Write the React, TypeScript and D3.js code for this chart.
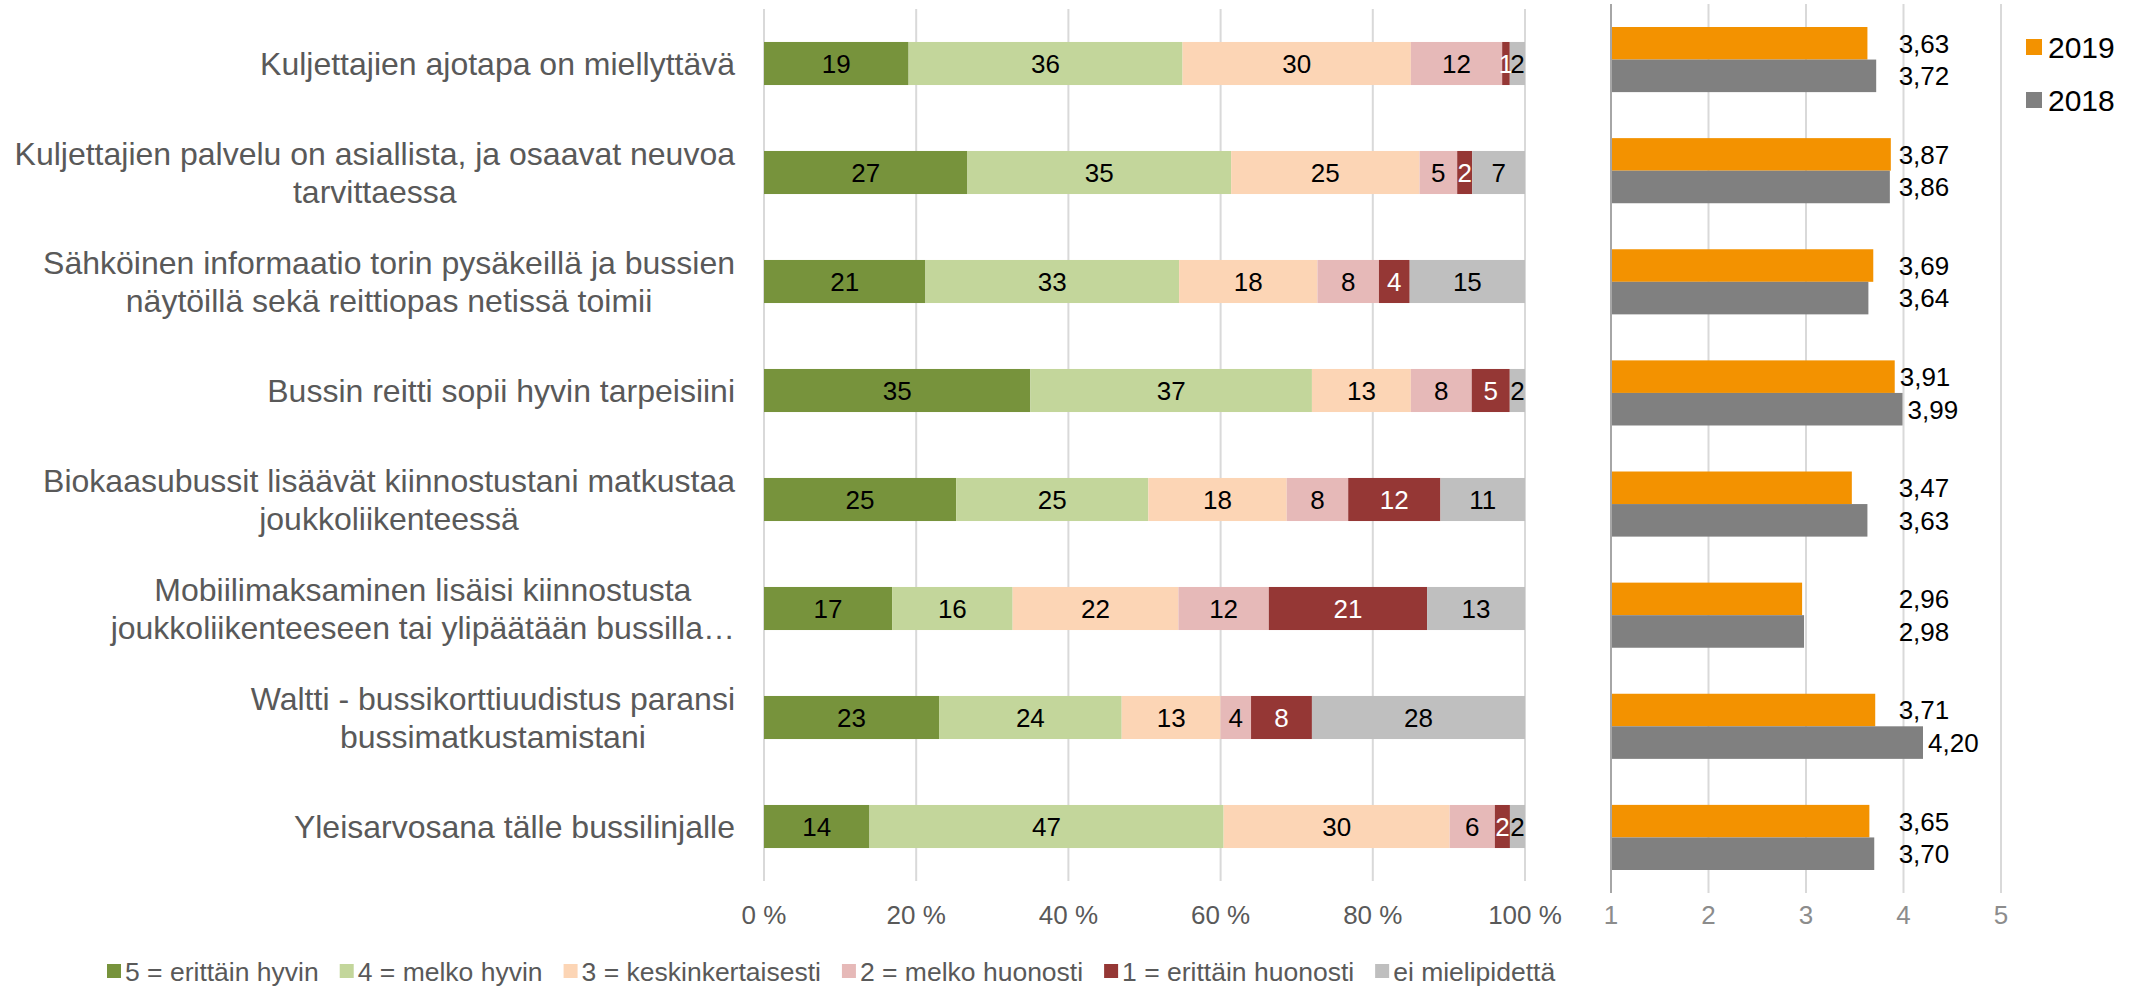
import React, { useEffect, useRef } from 'react';
import * as d3 from 'd3';

const categories: string[] = [
  'Kuljettajien ajotapa on miellyttävä',
  'Kuljettajien palvelu on asiallista, ja osaavat neuvoa\ntarvittaessa',
  'Sähköinen informaatio torin pysäkeillä ja bussien\nnäytöillä sekä reittiopas netissä toimii',
  'Bussin reitti sopii hyvin tarpeisiini',
  'Biokaasubussit lisäävät kiinnostustani matkustaa\njoukkoliikenteessä',
  'Mobiilimaksaminen lisäisi kiinnostusta\njoukkoliikenteeseen tai ylipäätään bussilla…',
  'Waltti - bussikorttiuudistus paransi\nbussimatkustamistani',
  'Yleisarvosana tälle bussilinjalle',
];

const seriesNames: string[] = [
  '5 = erittäin hyvin',
  '4 = melko hyvin',
  '3 = keskinkertaisesti',
  '2 = melko huonosti',
  '1 = erittäin huonosti',
  'ei mielipidettä',
];
const s5: number[] = [19, 27, 21, 35, 25, 17, 23, 14];
const s4: number[] = [36, 35, 33, 37, 25, 16, 24, 47];
const s3: number[] = [30, 25, 18, 13, 18, 22, 13, 30];
const s2: number[] = [12, 5, 8, 8, 8, 12, 4, 6];
const s1: number[] = [1, 2, 4, 5, 12, 21, 8, 2];
const s0: number[] = [2, 7, 15, 2, 11, 13, 28, 2];
const seriesColors: string[] = ['#77933C', '#C3D69B', '#FCD5B5', '#E6B9B8', '#953735', '#BFBFBF'];
const seriesLabelColors: string[] = ['#000000', '#000000', '#000000', '#000000', '#FFFFFF', '#000000'];

const pctTicks: number[] = [0, 0.2, 0.4, 0.6, 0.8, 1];
const pctTickLabels: string[] = ['0 %', '20 %', '40 %', '60 %', '80 %', '100 %'];

const years: string[] = ['2019', '2018'];
const avg2019: number[] = [3.63, 3.87, 3.69, 3.91, 3.47, 2.96, 3.71, 3.65];
const avg2018: number[] = [3.72, 3.86, 3.64, 3.99, 3.63, 2.98, 4.2, 3.7];
const yearColors: string[] = ['#F39200', '#808080'];
const meanTicks: number[] = [1, 2, 3, 4, 5];

const FONT = "'Liberation Sans', Arial, sans-serif";

export default function App() {
  const ref = useRef<SVGSVGElement | null>(null);

  useEffect(() => {
    const W = 2131;
    const H = 990;
    const svg = d3.select(ref.current as SVGSVGElement);
    svg.selectAll('*').remove();
    svg.append('rect').attr('width', W).attr('height', H).attr('fill', '#ffffff');

    // ---------- Left: 100% stacked bars ----------
    const x = d3.scaleLinear().domain([0, 1]).range([764, 1525]);
    const y = d3
      .scaleBand<number>()
      .domain(d3.range(categories.length))
      .range([9, 881])
      .paddingInner(0.605)
      .paddingOuter(0.3025);

    const gGrid = svg.append('g');
    pctTicks.forEach((t) => {
      gGrid
        .append('line')
        .attr('x1', x(t))
        .attr('x2', x(t))
        .attr('y1', 9)
        .attr('y2', 881)
        .attr('stroke', '#D9D9D9')
        .attr('stroke-width', 2);
    });

    const seriesValues = [s5, s4, s3, s2, s1, s0];
    const rows = categories.map((c, i) => ({ i, v: seriesValues.map((s) => s[i]) }));
    const stack = d3
      .stack<any, number>()
      .keys(d3.range(seriesValues.length))
      .value((d: any, k: number) => d.v[k])
      .offset(d3.stackOffsetExpand);
    const layers = stack(rows);

    const gBars = svg.append('g');
    layers.forEach((layer, k) => {
      layer.forEach((seg: any, i: number) => {
        const x0 = x(seg[0]);
        const x1 = x(seg[1]);
        gBars
          .append('rect')
          .attr('x', x0)
          .attr('y', y(i)!)
          .attr('width', Math.max(0, x1 - x0))
          .attr('height', y.bandwidth())
          .attr('fill', seriesColors[k]);
      });
    });
    layers.forEach((layer, k) => {
      layer.forEach((seg: any, i: number) => {
        const x0 = x(seg[0]);
        const x1 = x(seg[1]);
        gBars
          .append('text')
          .attr('x', (x0 + x1) / 2)
          .attr('y', y(i)! + y.bandwidth() / 2)
          .attr('dy', '0.36em')
          .attr('text-anchor', 'middle')
          .attr('font-family', FONT)
          .attr('font-size', 26)
          .attr('fill', seriesLabelColors[k])
          .text(String(seriesValues[k][i]));
      });
    });

    // category labels
    const gCat = svg.append('g');
    categories.forEach((c, i) => {
      const lines = c.split('\n');
      const cy = y(i)! + y.bandwidth() / 2;
      const texts = lines.map((ln, j) =>
        gCat
          .append('text')
          .attr('y', cy + (j - (lines.length - 1) / 2) * 38)
          .attr('dy', '0.36em')
          .attr('text-anchor', 'middle')
          .attr('font-family', FONT)
          .attr('font-size', 32)
          .attr('fill', '#595959')
          .text(ln)
      );
      const maxW = d3.max(texts, (t) => (t.node() as SVGTextElement).getComputedTextLength()) || 0;
      texts.forEach((t) => t.attr('x', 735 - maxW / 2));
    });

    // x axis labels
    pctTicks.forEach((t, j) => {
      svg
        .append('text')
        .attr('x', x(t))
        .attr('y', 915)
        .attr('dy', '0.36em')
        .attr('text-anchor', 'middle')
        .attr('font-family', FONT)
        .attr('font-size', 26)
        .attr('fill', '#595959')
        .text(pctTickLabels[j]);
    });

    // ---------- Right: mean scores ----------
    const x2 = d3.scaleLinear().domain([1, 5]).range([1611, 2001]);
    const y2 = d3
      .scaleBand<number>()
      .domain(d3.range(categories.length))
      .range([4, 893])
      .paddingInner(0.414)
      .paddingOuter(0.207);
    const ySub = d3.scaleBand<number>().domain([0, 1]).range([0, y2.bandwidth()]);

    meanTicks.slice(1).forEach((t) => {
      svg
        .append('line')
        .attr('x1', x2(t))
        .attr('x2', x2(t))
        .attr('y1', 4)
        .attr('y2', 893)
        .attr('stroke', '#D9D9D9')
        .attr('stroke-width', 2);
    });

    const yearValues = [avg2019, avg2018];
    // value labels sit in a column near the "4" gridline, pushed right only by longer bars
    const labelColumnX = x2(3.95);
    yearValues.forEach((vals, k) => {
      vals.forEach((v, i) => {
        const yy = y2(i)! + ySub(k)!;
        svg
          .append('rect')
          .attr('x', x2(1))
          .attr('y', yy)
          .attr('width', x2(v) - x2(1))
          .attr('height', ySub.bandwidth())
          .attr('fill', yearColors[k]);
        svg
          .append('text')
          .attr('x', Math.max(labelColumnX, x2(v) + 5))
          .attr('y', yy + ySub.bandwidth() / 2)
          .attr('dy', '0.36em')
          .attr('font-family', FONT)
          .attr('font-size', 26)
          .attr('fill', '#000000')
          .text(v.toFixed(2).replace('.', ','));
      });
    });

    svg
      .append('line')
      .attr('x1', x2(1))
      .attr('x2', x2(1))
      .attr('y1', 4)
      .attr('y2', 893)
      .attr('stroke', '#A6A6A6')
      .attr('stroke-width', 2);

    meanTicks.forEach((t) => {
      svg
        .append('text')
        .attr('x', x2(t))
        .attr('y', 915)
        .attr('dy', '0.36em')
        .attr('text-anchor', 'middle')
        .attr('font-family', FONT)
        .attr('font-size', 26)
        .attr('fill', '#8C8C8C')
        .text(String(t));
    });

    // right legend
    years.forEach((yr, k) => {
      const cy = 47 + k * 53;
      svg
        .append('rect')
        .attr('x', 2026)
        .attr('y', cy - 8)
        .attr('width', 16)
        .attr('height', 16)
        .attr('fill', yearColors[k]);
      svg
        .append('text')
        .attr('x', 2048)
        .attr('y', cy)
        .attr('dy', '0.36em')
        .attr('font-family', FONT)
        .attr('font-size', 30)
        .attr('fill', '#000000')
        .text(yr);
    });

    // bottom legend
    let lx = 107;
    const ly = 971;
    seriesNames.forEach((name, k) => {
      svg
        .append('rect')
        .attr('x', lx)
        .attr('y', ly - 7)
        .attr('width', 14)
        .attr('height', 14)
        .attr('fill', seriesColors[k]);
      const t = svg
        .append('text')
        .attr('x', lx + 18)
        .attr('y', ly)
        .attr('dy', '0.36em')
        .attr('font-family', FONT)
        .attr('font-size', 26.5)
        .attr('fill', '#595959')
        .text(name);
      const w = (t.node() as SVGTextElement).getComputedTextLength();
      lx = lx + 18 + w + 21;
    });
  }, []);

  return (
    <svg
      ref={ref}
      width={2131}
      height={990}
      style={{ position: 'absolute', left: 0, top: 0, display: 'block' }}
    />
  );
}
